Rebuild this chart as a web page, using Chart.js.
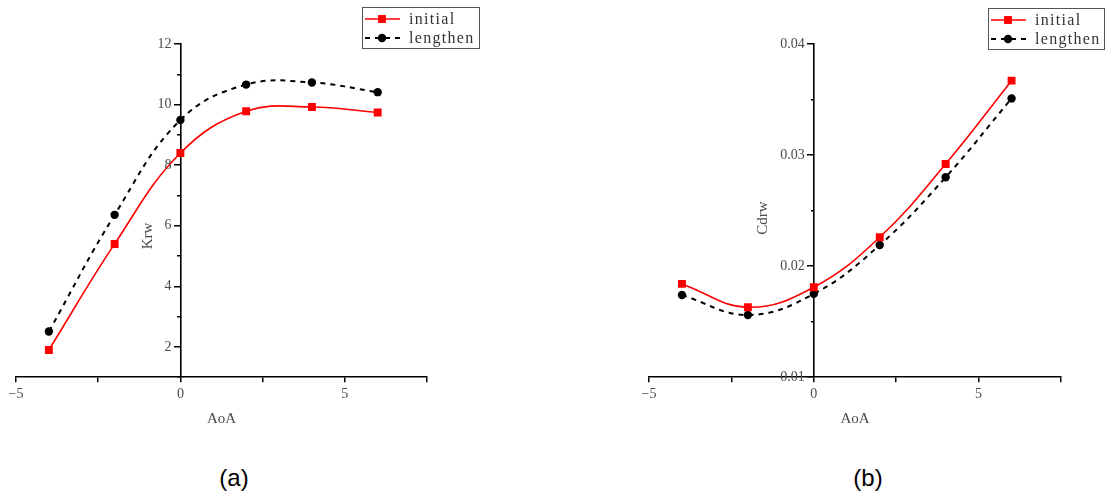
<!DOCTYPE html>
<html>
<head>
<meta charset="utf-8">
<script src="https://cdn.jsdelivr.net/npm/chart.js@4/dist/chart.umd.min.js"></script>
<style>
  html, body { margin: 0; padding: 0; background: #fff; }
  body { position: relative; width: 1107px; height: 497px; overflow: hidden; }
  canvas { position: absolute; top: 0; }
  #chartA { left: 0; }
  #chartB { left: 553px; }
  .cap { position: absolute; top: 463px; font: 24px "Liberation Sans", Arial, sans-serif; color: #000; line-height: 30px; transform: translateX(-50%); }
</style>
</head>
<body>
<canvas id="chartA" width="553" height="440"></canvas>
<canvas id="chartB" width="554" height="440"></canvas>
<div class="cap" style="left:234px">(a)</div>
<div class="cap" style="left:868px">(b)</div>
<script>
// Angle of attack (deg)
const aoa = [-4, -2, 0, 2, 4, 6];

// Krw
const krwInitial  = [1.9, 5.4, 8.4, 9.78, 9.92, 9.74];
const krwLengthen = [2.51, 6.36, 9.49, 10.66, 10.73, 10.41];

// Cdrw
const cdrwInitial  = [0.0184, 0.0163, 0.0181, 0.0226, 0.0292, 0.0367];
const cdrwLengthen = [0.0174, 0.0156, 0.0175, 0.0219, 0.0280, 0.0351];

const seriesNames = ['initial', 'lengthen'];

// Axis ticks
const xTicks      = [-5, -2.5, 0, 2.5, 5, 7.5];
const xTickLabels = [-5, 0, 5];
const krwMajor    = [2, 4, 6, 8, 10, 12];
const krwMinor    = [1, 3, 5, 7, 9, 11];
const cdrwMajor   = [0.01, 0.02, 0.03, 0.04];
const cdrwMinor   = [0.015, 0.025, 0.035];

const TEXT = '#4a4a4a';
const SERIF = '"Liberation Serif", "DejaVu Serif", serif';

const pts = (xs, ys) => xs.map((x, i) => ({ x, y: ys[i] }));
const fmtX = v => (v < 0 ? '\u2212' + Math.abs(v) : String(v));

function makeDatasets(a, b) {
  return [
    {
      label: seriesNames[0], data: pts(aoa, a),
      borderColor: '#ff0000', backgroundColor: '#ff0000', borderWidth: 1.6,
      pointStyle: 'rect', pointRadius: 5.6, pointBackgroundColor: '#ff0000', pointBorderColor: '#ff0000',
      pointBorderWidth: 0, tension: 0.4, borderDash: []
    },
    {
      label: seriesNames[1], data: pts(aoa, b),
      borderColor: '#000000', backgroundColor: '#000000', borderWidth: 2,
      pointStyle: 'circle', pointRadius: 4.2, pointBackgroundColor: '#000000', pointBorderColor: '#000000',
      pointBorderWidth: 0, tension: 0.4, borderDash: [5, 5]
    }
  ];
}

// Y tick labels and rotated title next to an axis that sits at x = 0
const yAxisText = {
  id: 'yAxisText',
  afterDraw(chart, args, o) {
    const ctx = chart.ctx;
    const ys = chart.scales.y;
    const x0 = chart.scales.x.getPixelForValue(0);
    ctx.save();
    ctx.fillStyle = TEXT;
    ctx.font = '14px ' + SERIF;
    ctx.textAlign = 'right';
    ctx.textBaseline = 'middle';
    o.labels.forEach(v => {
      ctx.fillText(o.format(v), x0 - 9, ys.getPixelForValue(v));
    });
    ctx.translate(o.titleX, o.titleY);
    ctx.rotate(-Math.PI / 2);
    ctx.textAlign = 'center';
    ctx.font = '15px ' + SERIF;
    ctx.fillText(o.title, 0, 0);
    ctx.restore();
  }
};

// Framed legend with line sample, marker and name
const boxLegend = {
  id: 'boxLegend',
  afterDraw(chart, args, o) {
    const ctx = chart.ctx;
    ctx.save();
    ctx.fillStyle = '#fff';
    ctx.fillRect(o.x, o.y, o.w, o.h);
    ctx.strokeStyle = '#555';
    ctx.lineWidth = 1;
    ctx.strokeRect(o.x + 0.5, o.y + 0.5, o.w, o.h);
    chart.data.datasets.forEach((ds, i) => {
      const cy = o.y + 12 + i * 19;
      const x0 = o.x + 3, x1 = o.x + 38, xm = o.x + 20;
      ctx.beginPath();
      ctx.setLineDash(ds.borderDash);
      ctx.lineWidth = ds.borderWidth;
      ctx.strokeStyle = ds.borderColor;
      ctx.moveTo(x0, cy);
      ctx.lineTo(x1, cy);
      ctx.stroke();
      ctx.setLineDash([]);
      ctx.fillStyle = ds.pointBackgroundColor;
      ctx.beginPath();
      if (ds.pointStyle === 'rect') {
        const s = ds.pointRadius * Math.SQRT1_2;
        ctx.rect(xm - s, cy - s, 2 * s, 2 * s);
      } else {
        ctx.arc(xm, cy, ds.pointRadius, 0, Math.PI * 2);
      }
      ctx.fill();
      ctx.fillStyle = '#333';
      ctx.font = '16px ' + SERIF;
      ctx.textAlign = 'left';
      ctx.textBaseline = 'middle';
      if ('letterSpacing' in ctx) ctx.letterSpacing = '1.3px';
      ctx.fillText(ds.label, o.x + 47, cy + 1);
    });
    ctx.restore();
  }
};

function makeChart(id, a, b, yMin, yMax, major, minor, yTitle, fmtY, pad, legendPos, titlePos) {
  return new Chart(document.getElementById(id), {
    type: 'line',
    data: { datasets: makeDatasets(a, b) },
    plugins: [yAxisText, boxLegend],
    options: {
      responsive: false,
      animation: false,
      events: [],
      layout: { padding: pad },
      plugins: {
        legend: { display: false },
        tooltip: { enabled: false },
        yAxisText: { labels: major, format: fmtY, title: yTitle, titleX: titlePos[0], titleY: titlePos[1] },
        boxLegend: legendPos
      },
      scales: {
        x: {
          type: 'linear', position: 'bottom', min: -5, max: 7.5,
          afterBuildTicks: s => { s.ticks = xTicks.map(v => ({ value: v })); },
          ticks: {
            autoSkip: false, maxRotation: 0, padding: 4, color: TEXT,
            font: { family: SERIF, size: 14 },
            callback: v => (xTickLabels.includes(v) ? fmtX(v) : '')
          },
          grid: { drawOnChartArea: false, drawTicks: true, tickLength: 5, color: '#000', lineWidth: 1.5 },
          border: { display: true, color: '#000', width: 1.6 },
          title: { display: true, text: 'AoA', color: TEXT, font: { family: SERIF, size: 15 }, padding: { top: 3, bottom: 0 } }
        },
        y: {
          type: 'linear', position: { x: 0 }, min: yMin, max: yMax,
          afterBuildTicks: s => { s.ticks = major.map(v => ({ value: v })); },
          ticks: { display: false },
          grid: { drawOnChartArea: false, drawTicks: true, tickLength: 6, color: '#000', lineWidth: 1.5 },
          border: { display: true, color: '#000', width: 1.6 }
        },
        yMinor: {
          type: 'linear', position: { x: 0 }, min: yMin, max: yMax,
          afterBuildTicks: s => { s.ticks = minor.map(v => ({ value: v })); },
          ticks: { display: false },
          grid: { drawOnChartArea: false, drawTicks: true, tickLength: 3, color: '#000', lineWidth: 1.5 },
          border: { display: false }
        }
      }
    }
  });
}

makeChart('chartA', krwInitial, krwLengthen, 1, 12, krwMajor, krwMinor, 'Krw',
  v => String(v),
  { left: 16, right: 126, top: 44, bottom: 12 },
  { x: 362, y: 7, w: 117, h: 41 },
  [148, 236]);

makeChart('chartB', cdrwInitial, cdrwLengthen, 0.01, 0.04, cdrwMajor, cdrwMinor, 'Cdrw',
  v => v.toFixed(2),
  { left: 96, right: 46, top: 44, bottom: 12 },
  { x: 435, y: 8, w: 116, h: 41 },
  [210, 218]);
</script>
</body>
</html>
